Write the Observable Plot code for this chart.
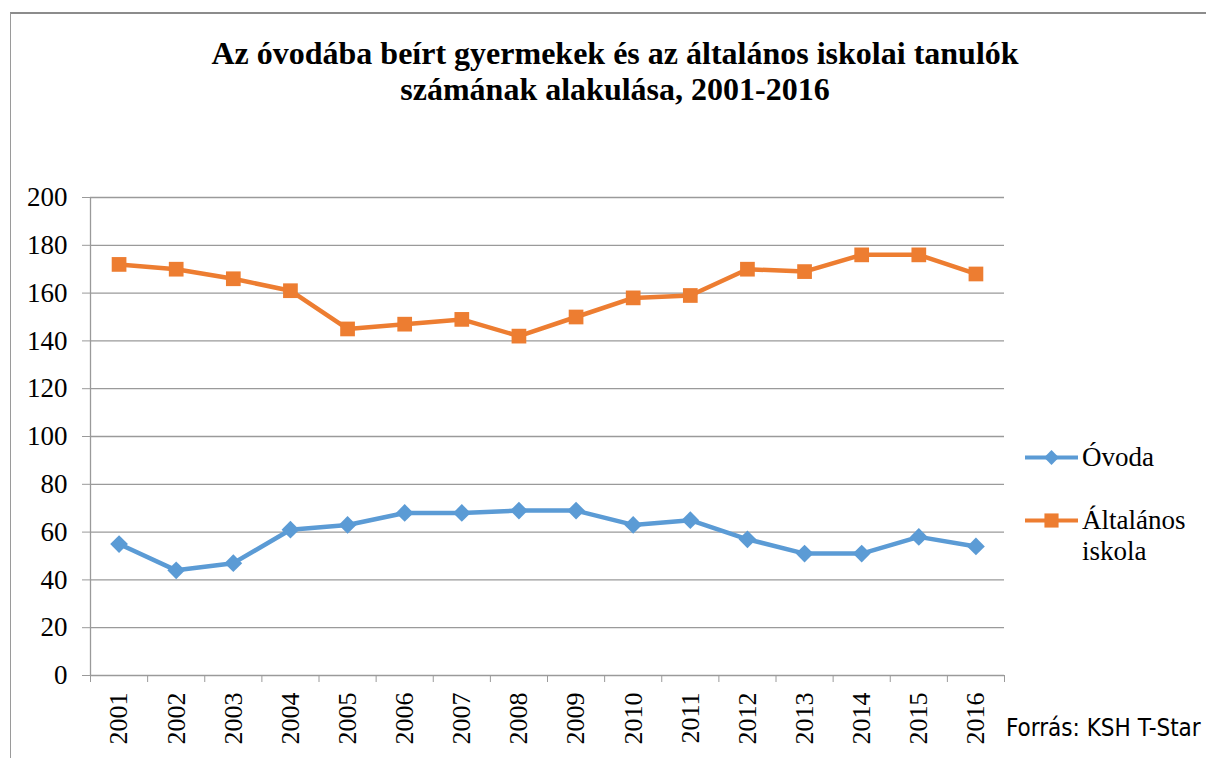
<!DOCTYPE html>
<html>
<head>
<meta charset="utf-8">
<script src="https://cdn.jsdelivr.net/npm/d3@7"></script>
<script src="https://cdn.jsdelivr.net/npm/@observablehq/plot@0.6"></script>
<style>
  html, body { margin: 0; padding: 0; background: #fff; }
  body { width: 1206px; height: 758px; position: relative; overflow: hidden; font-family: "Liberation Serif", "Times New Roman", serif; color: #000; }
  #frame { position: absolute; left: 10px; top: 12px; width: 1300px; height: 800px; border-top: 2px solid #8c8c8c; border-left: 1px solid #9a9a9a; box-sizing: border-box; }
  #title { position: absolute; left: 10px; top: 35px; width: 1210px; text-align: center; font-weight: bold; font-size: 32px; line-height: 36px; }
  #chart { position: absolute; left: 0; top: 150px; }
  #legend { position: absolute; left: 1025px; top: 438px; font-size: 27px; }
  .entry { position: absolute; left: 0; white-space: nowrap; }
  .entry svg { position: absolute; left: 0; }
  .entry span { position: absolute; left: 57px; line-height: 31px; }
  #source { position: absolute; left: 1006px; top: 714px; font-family: "Liberation Sans Narrow", "DejaVu Sans Condensed", sans-serif; font-size: 24px; }
</style>
</head>
<body>
<div id="frame"></div>
<div id="title">Az óvodába beírt gyermekek és az általános iskolai tanulók<br>számának alakulása, 2001-2016</div>
<div id="chart"></div>
<div id="legend"></div>
<div id="source">Forrás: KSH T-Star</div>
<script>
const years = [2001, 2002, 2003, 2004, 2005, 2006, 2007, 2008, 2009, 2010, 2011, 2012, 2013, 2014, 2015, 2016];
const ovoda = [55, 44, 47, 61, 63, 68, 68, 69, 69, 63, 65, 57, 51, 51, 58, 54];
const altalanos = [172, 170, 166, 161, 145, 147, 149, 142, 150, 158, 159, 170, 169, 176, 176, 168];
const yTicks = [0, 20, 40, 60, 80, 100, 120, 140, 160, 180, 200];
const seriesNames = ["Óvoda", "Általános iskola"];
const colors = ["#5B9BD5", "#ED7D31"];

const data = [];
years.forEach((yr, i) => {
  data.push({year: yr, value: ovoda[i], series: seriesNames[0]});
  data.push({year: yr, value: altalanos[i], series: seriesNames[1]});
});
const ovodaData = data.filter(d => d.series === seriesNames[0]);
const altData = data.filter(d => d.series === seriesNames[1]);
const boundaries = years.map(y => y - 0.5).concat([years[years.length - 1] + 0.5]);
const serif = "'Liberation Serif', 'Times New Roman', serif";

const chart = Plot.plot({
  width: 1206,
  height: 608,
  marginTop: 47,
  marginBottom: 83,
  marginLeft: 90,
  marginRight: 202,
  style: {fontFamily: serif, background: "transparent", overflow: "visible"},
  x: {type: "linear", domain: [years[0] - 0.5, years[years.length - 1] + 0.5]},
  y: {domain: [0, 200]},
  marks: [
    Plot.ruleY(yTicks, {stroke: "#9a9a9a", strokeWidth: 1.3}),
    Plot.ruleX([boundaries[0]], {stroke: "#9a9a9a", strokeWidth: 1.3}),
    Plot.axisY({ticks: yTicks, tickSize: 8, tickPadding: 15, fontSize: 27, fontFamily: serif, stroke: "#9a9a9a", fill: "#000", tickFormat: d => String(d), label: null}),
    Plot.axisX({ticks: boundaries, tickSize: 7, stroke: "#9a9a9a", text: null, label: null}),
    Plot.axisX({ticks: years, tickSize: 0, tickPadding: 17, tickRotate: -90, fontSize: 26, fontFamily: serif, fill: "#000", tickFormat: d => String(d), label: null}),
    Plot.line(ovodaData, {x: "year", y: "value", stroke: colors[0], strokeWidth: 4.5}),
    Plot.line(altData, {x: "year", y: "value", stroke: colors[1], strokeWidth: 4.5}),
    Plot.dot(ovodaData, {x: "year", y: "value", symbol: "diamond2", r: 8, fill: colors[0], stroke: "none"}),
    Plot.dot(altData, {x: "year", y: "value", symbol: "square", r: 8.3, fill: colors[1], stroke: "none"})
  ]
});
document.getElementById("chart").appendChild(chart);

// Legend
const legend = document.getElementById("legend");
const legendRows = [
  {name: "Óvoda", lines: ["Óvoda"], top: 4, color: colors[0], symbol: d3.symbolDiamond2, size: 140},
  {name: "Általános iskola", lines: ["Általános", "iskola"], top: 67, color: colors[1], symbol: d3.symbolSquare, size: 200}
];
legendRows.forEach(r => {
  const div = document.createElement("div");
  div.className = "entry";
  div.style.top = r.top + "px";
  const svg = d3.create("svg").attr("width", 56).attr("height", 31);
  svg.append("line").attr("x1", 0).attr("x2", 53).attr("y1", 15.5).attr("y2", 15.5)
    .attr("stroke", r.color).attr("stroke-width", 4);
  svg.append("path").attr("d", d3.symbol(r.symbol, r.size)()).attr("transform", "translate(26.5,15.5)")
    .attr("fill", r.color);
  div.appendChild(svg.node());
  const span = document.createElement("span");
  span.innerHTML = r.lines.join("<br>");
  div.appendChild(span);
  legend.appendChild(div);
});
</script>
</body>
</html>
